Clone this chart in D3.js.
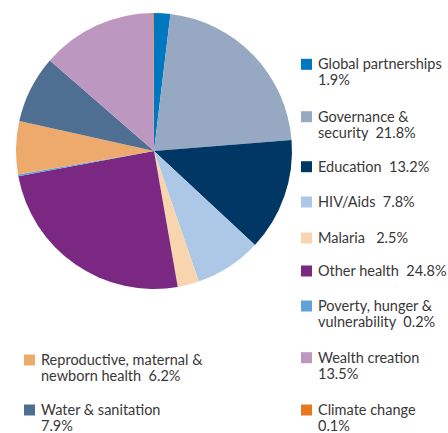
<!DOCTYPE html>
<html>
<head>
<meta charset="utf-8">
<script src="https://cdn.jsdelivr.net/npm/d3@7/dist/d3.min.js"></script>
<style>
  html, body { margin: 0; padding: 0; background: #fff; }
  svg { display: block; }
  text { font-family: Lato, "Open Sans", sans-serif; font-size: 14.5px; fill: #383838; }
</style>
</head>
<body>
<svg id="chart" width="448" height="433"></svg>
<script>
// Spending areas, clockwise from 12 o'clock
const categories = [
  "Global partnerships", "Governance & security", "Education", "HIV/Aids", "Malaria",
  "Other health", "Poverty, hunger & vulnerability", "Reproductive, maternal & newborn health",
  "Water & sanitation", "Wealth creation", "Climate change"
];
const shares = [1.9, 21.8, 13.2, 7.8, 2.5, 24.8, 0.2, 6.2, 7.9, 13.5, 0.1];
const colors = [
  "#0077c1", "#97a8c2", "#003764", "#adc8e6", "#f8d5ae",
  "#7a2881", "#62a0d8", "#eeaa6c", "#4e6e92", "#bc98c1", "#e8781f"
];
// Legend wording, broken into lines ("{v}" is replaced by the share)
const legendLines = [
  ["Global partnerships", "{v}"],
  ["Governance &", "security  {v}"],
  ["Education  {v}"],
  ["HIV/Aids  {v}"],
  ["Malaria   {v}"],
  ["Other health  {v}"],
  ["Poverty, hunger &", "vulnerability  {v}"],
  ["Reproductive, maternal &", "newborn health  {v}"],
  ["Water & sanitation", "{v}"],
  ["Wealth creation", "{v}"],
  ["Climate change", "{v}"]
];

// Layout
const cx = 154, cy = 151, radius = 138;
const legendPos = [
  { x: 301, y: 69.3 }, { x: 301, y: 121.7 }, { x: 301, y: 171.7 }, { x: 301, y: 207 },
  { x: 301, y: 243 }, { x: 301, y: 276 }, { x: 301, y: 311 }, { x: 24, y: 365 },
  { x: 24, y: 415 }, { x: 301, y: 362.7 }, { x: 301, y: 415 }
];
const lineH = 16.2, box = 11, textDx = 17;

const svg = d3.select("#chart");
const data = categories.map((c, i) => ({ name: c, value: shares[i], color: colors[i], lines: legendLines[i] }));

const pie = d3.pie().sort(null).value(d => d.value);
const arc = d3.arc().innerRadius(0).outerRadius(radius);

svg.append("g")
  .attr("transform", `translate(${cx},${cy})`)
  .selectAll("path")
  .data(pie(data))
  .join("path")
  .attr("d", arc)
  .attr("fill", d => d.data.color);

const fmt = d3.format(".1f");
const legend = svg.append("g")
  .selectAll("g")
  .data(data)
  .join("g")
  .attr("transform", (d, i) => `translate(${legendPos[i].x},${legendPos[i].y})`);

legend.append("rect")
  .attr("x", 0).attr("y", -10.5)
  .attr("width", box).attr("height", box)
  .attr("fill", d => d.color);

legend.append("text")
  .attr("x", textDx)
  .style("white-space", "pre")
  .selectAll("tspan")
  .data(d => d.lines.map(l => l.replace("{v}", fmt(d.value) + "%")))
  .join("tspan")
  .attr("x", textDx)
  .attr("dy", (l, j) => j === 0 ? 0 : lineH)
  .text(l => l);
</script>
</body>
</html>
